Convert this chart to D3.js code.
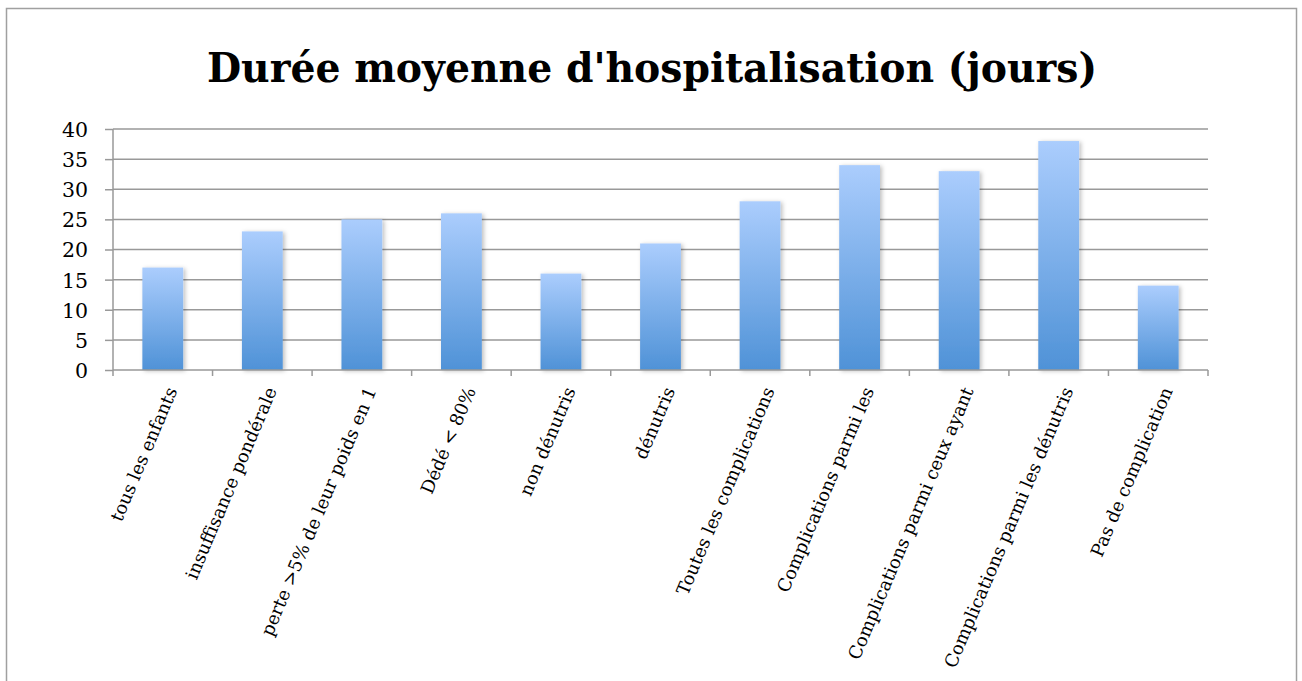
<!DOCTYPE html>
<html><head><meta charset="utf-8">
<script src="https://cdn.jsdelivr.net/npm/d3@7"></script>
<style>body{margin:0;background:#fff}svg{display:block}</style>
</head><body>
<script>
const title = "Durée moyenne d'hospitalisation (jours)";
const categories = ["tous les enfants","insuffisance pondérale","perte >5% de leur poids en 1","Dédé < 80%","non dénutris","dénutris","Toutes les complications","Complications parmi les","Complications parmi ceux ayant","Complications parmi les dénutris","Pas de complication"];
const values = [17,23,25,26,16,21,28,34,33,38,14];
const yTicks = [0,5,10,15,20,25,30,35,40];

const W=1302,H=681;
const FONT="'DejaVu Serif',serif";
const svg=d3.select("body").append("svg").attr("width",W).attr("height",H);
const defs=svg.append("defs");
const grad=defs.append("linearGradient").attr("id","g").attr("x1",0).attr("y1",0).attr("x2",0).attr("y2",1);
grad.append("stop").attr("offset","0%").attr("stop-color","#abcdfd");
grad.append("stop").attr("offset","100%").attr("stop-color","#4f92d7");
const f=defs.append("filter").attr("id","sh").attr("x","-20%").attr("y","-10%").attr("width","150%").attr("height","130%");
f.append("feDropShadow").attr("dx",2).attr("dy",1).attr("stdDeviation",2).attr("flood-color","#000").attr("flood-opacity",0.25);

svg.append("rect").attr("x",6.5).attr("y",8.5).attr("width",1290).attr("height",680).attr("fill","none").attr("stroke","#a0a0a0").attr("stroke-width",1.5);

svg.append("text").attr("x",652).attr("y",82).attr("text-anchor","middle")
 .attr("font-family",FONT).attr("font-weight","bold").attr("font-size",41)
 .attr("textLength",890).attr("lengthAdjust","spacingAndGlyphs").attr("fill","#000").text(title);

const x=d3.scaleBand().domain(categories).range([113,1208]).paddingInner(0.59).paddingOuter(0.295);
const y=d3.scaleLinear().domain([0,40]).range([370,129]);

// gridlines
svg.append("g").selectAll("line").data(yTicks.filter(d=>d>0)).join("line")
 .attr("x1",113).attr("x2",1208).attr("y1",d=>y(d)).attr("y2",d=>y(d)).attr("stroke","#999").attr("stroke-width",1.5);

// y axis
const ya=svg.append("g").attr("transform","translate(113,0)").call(d3.axisLeft(y).tickValues(yTicks).tickSize(8).tickPadding(17));
ya.select(".domain").attr("stroke","#999").attr("stroke-width",1.5).attr("d","M0,129V370");
ya.selectAll(".tick line").attr("stroke","#999").attr("stroke-width",1.5);
ya.selectAll("text").attr("font-family",FONT).attr("font-size",20.5).attr("fill","#000").attr("dy","0.36em");

// bars
svg.append("g").selectAll("rect").data(values).join("rect")
 .attr("x",(d,i)=>x(categories[i])).attr("width",x.bandwidth())
 .attr("y",d=>y(d)).attr("height",d=>y(0)-y(d)).attr("fill","url(#g)").attr("filter","url(#sh)");

// x axis
const step=x.step();
const xa=svg.append("g").attr("transform","translate(0,370)");
xa.append("line").attr("x1",113).attr("x2",1208).attr("stroke","#999").attr("stroke-width",1.5);
xa.selectAll("line.t").data(d3.range(categories.length+1)).join("line").attr("class","t")
 .attr("x1",i=>113+i*step).attr("x2",i=>113+i*step).attr("y1",0).attr("y2",6).attr("stroke","#999").attr("stroke-width",1.5);
xa.selectAll("text").data(categories).join("text")
 .attr("transform",d=>`translate(${x(d)+x.bandwidth()/2+9},${18}) rotate(-67)`)
 .attr("text-anchor","end").attr("dy","0.35em")
 .attr("font-family",FONT).attr("font-size",18).attr("fill","#000").text(d=>d);
</script>
</body></html>
